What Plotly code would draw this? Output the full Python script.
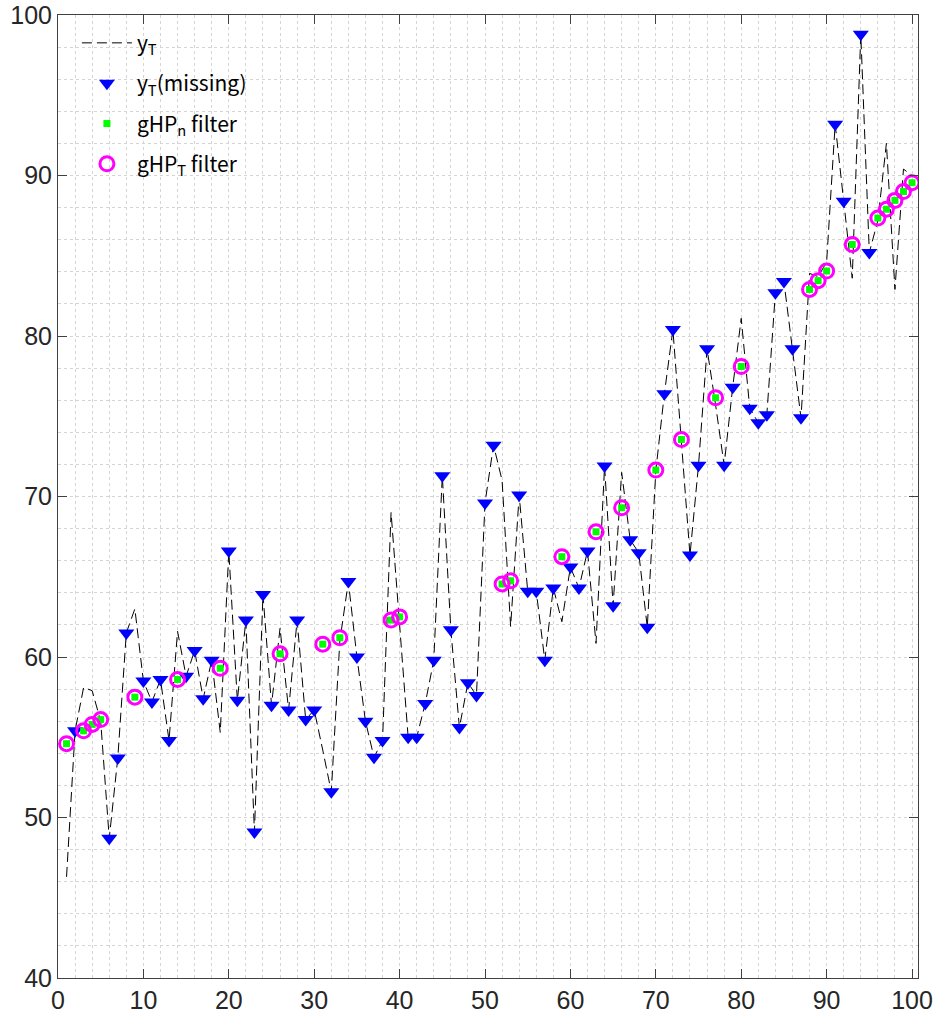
import plotly.graph_objects as go

# ---- data ----
t = list(range(1, 101))
y_T = [46.3, 55.4, 58.1, 57.9, 56.0, 48.7, 53.7, 61.5, 63.0, 58.5,
       57.2, 58.6, 54.8, 61.6, 58.8, 60.4, 57.4, 59.8, 55.3, 66.6,
       57.3, 62.3, 49.1, 63.9, 57.0, 61.8, 56.7, 62.3, 56.1, 56.7,
       54.2, 51.6, 61.0, 64.7, 60.0, 56.0, 53.75, 54.8, 69.0, 62.0,
       55.0, 55.0, 57.1, 59.8, 71.3, 61.7, 55.6, 58.4, 57.6, 69.6,
       73.2, 71.0, 61.9, 70.1, 64.1, 64.1, 59.8, 64.3, 62.2, 65.6,
       64.3, 66.6, 60.85, 71.9, 63.2, 71.5, 67.3, 66.5, 61.85, 71.6,
       76.4, 80.4, 73.2, 66.35, 71.95, 79.2, 75.7, 71.95, 76.8, 81.1,
       75.5, 74.6, 75.1, 82.7, 83.4, 79.2, 74.9, 83.9, 83.7, 84.6,
       93.2, 88.4, 83.6, 98.8, 85.2, 87.2, 92.0, 82.9, 90.4, 90.0]

obs_idx = [1, 3, 4, 5, 9, 14, 19, 26, 31, 33, 39, 40, 52, 53, 59, 63, 66,
           70, 73, 77, 80, 88, 89, 90, 93, 96, 97, 98, 99, 100]
gHP_n = [54.6, 55.4, 55.8, 56.1, 57.5, 58.6, 59.3, 60.2, 60.8, 61.2, 62.3,
         62.5, 64.55, 64.75, 66.25, 67.8, 69.3, 71.65, 73.55, 76.15, 78.1,
         82.9, 83.45, 84.05, 85.7, 87.35, 87.9, 88.45, 89.0, 89.55]
gHP_T = list(gHP_n)

missing_idx = [i for i in t if i not in obs_idx]
y_missing = [y_T[i - 1] for i in missing_idx]

x_ticks = [0, 10, 20, 30, 40, 50, 60, 70, 80, 90, 100]
y_ticks = [40, 50, 60, 70, 80, 90, 100]

LEG_FONT = "Noto Sans CJK JP"
TICK_FONT = "Liberation Sans"

fig = go.Figure()
fig.add_trace(go.Scatter(x=t, y=y_T, mode="lines", name="y<sub>T</sub>",
                         line=dict(color="black", width=1, dash="10px,5px"),
                         legendgroup="a"))
fig.add_trace(go.Scatter(x=missing_idx, y=y_missing, mode="markers",
                         name="y<sub>T</sub>(missing)",
                         marker=dict(symbol="triangle-down", size=14, color="#0000ff",
                                     line=dict(width=0)),
                         legendgroup="b"))
fig.add_trace(go.Scatter(x=obs_idx, y=gHP_n, mode="markers",
                         name="gHP<sub>n</sub> filter",
                         marker=dict(symbol="square", size=7, color="#00ff00",
                                     line=dict(width=0)),
                         legendgroup="c"))
fig.add_trace(go.Scatter(x=obs_idx, y=gHP_T, mode="markers",
                         name="gHP<sub>T</sub> filter",
                         marker=dict(symbol="circle-open", size=14, color="#ff00ff",
                                     line=dict(width=3, color="#ff00ff")),
                         legendgroup="d"))

axis_common = dict(
    showline=True, linecolor="#404040", linewidth=1, mirror="ticks",
    ticks="inside", ticklen=9, tickcolor="#404040",
    showgrid=True, gridcolor="#d4d4d4", griddash="dot", gridwidth=1,
    zeroline=False, automargin=False,
    tickfont=dict(family=TICK_FONT, size=25, color="#262626"),
)

fig.update_xaxes(range=[0, 100.7], tickmode="array", tickvals=x_ticks,
                 minor=dict(dtick=2, tick0=0, showgrid=True, gridcolor="#d4d4d4",
                            griddash="dot", gridwidth=1, ticks=""),
                 **axis_common)
fig.update_yaxes(range=[40, 100.0001], tickmode="array", tickvals=y_ticks,
                 minor=dict(dtick=2, tick0=0, showgrid=True, gridcolor="#d4d4d4",
                            griddash="dot", gridwidth=1, ticks=""),
                 **axis_common)

fig.update_layout(
    width=933, height=1021,
    margin=dict(l=58, r=15, t=15, b=43),
    paper_bgcolor="white", plot_bgcolor="white",
    font=dict(family=LEG_FONT, size=21, color="black"),
    legend=dict(x=0.022, y=0.992, xanchor="left", yanchor="top",
                bgcolor="rgba(0,0,0,0)", borderwidth=0, itemwidth=50,
                tracegroupgap=10, font=dict(family=LEG_FONT, size=21, color="black")),
    showlegend=True,
)

# remove the browser's default 8px body margin so the figure sits at the page origin
fig.write_html("out.html",
               config={"displayModeBar": False},
               post_script="document.body.style.margin='0px';document.body.style.padding='0px';")
